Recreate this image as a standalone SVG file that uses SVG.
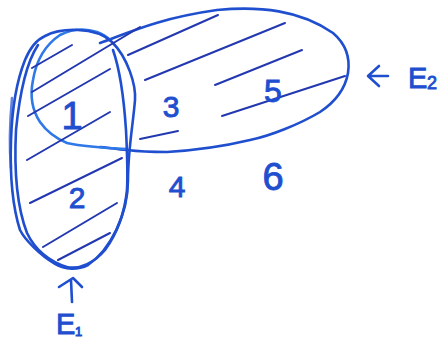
<svg xmlns="http://www.w3.org/2000/svg" width="445" height="342" viewBox="0 0 445 342">
<style>
.ol{fill:none;stroke:#1f4fcf;stroke-width:2.6;stroke-linecap:round;stroke-linejoin:round}
.lt{fill:none;stroke:#2f78e8;stroke-width:2.6;stroke-linecap:round}
.h{fill:none;stroke:#2338b0;stroke-width:2;stroke-linecap:round}
.t{font-family:"Liberation Sans",Arial,sans-serif;fill:#1f4fcf;stroke:#1f4fcf;stroke-width:0.9}
</style>
<rect width="445" height="342" fill="#ffffff"/>
<g id="E2">
<path class="ol" d="M 100,43 C 130,32 160,18 217,10 C 260,6 300,10 333,33 C 347,45 350,60 348,73 C 345,90 335,102 320,112 C 300,124 270,136 250,140 C 225,146 200,150 167,152 C 145,152 135,151 127,150 C 115,149 105,147 100,147"/>
<path class="lt" d="M 127,149 C 105,148 85,147 67,143 C 55,138 47,132 40,122 C 32,110 30,95 33,80 C 36,62 45,45 60,35 C 72,29 85,28 97,32 C 102,34 106,36 110,40"/>
</g>
<g id="E1">
<path class="ol" d="M 45,36 C 60,28 95,26 112,42 C 128,58 136,85 135,100 C 133,125 128,150 128,180 C 128,215 110,250 88,265 C 78,270 65,270 55,264 C 40,255 25,240 20,230 C 12,205 10,170 11,140 C 12,110 17,80 25,60 C 30,48 36,40 45,36"/>
<path class="ol" d="M 38,45 C 28,60 20,90 16,130 C 14,170 17,207 27,233 C 35,250 50,262 67,267 C 80,270 95,262 105,250 C 118,232 125,210 127,190 C 128,170 127,150 126,130 C 124,100 120,70 113,50"/>
<path class="ol" stroke-width="1.5" opacity="0.7" d="M 12,98 C 10,120 9,145 11,168"/>
</g>
<g id="hatching">
<line class="h" x1="32" y1="68" x2="72" y2="45"/>
<line class="h" x1="32" y1="92" x2="140" y2="27"/>
<line class="h" x1="28" y1="116" x2="110" y2="69"/>
<line class="h" x1="27" y1="160" x2="110" y2="112"/>
<line class="h" x1="30" y1="203" x2="122" y2="158"/>
<line class="h" x1="43" y1="247" x2="117" y2="203"/>
<line class="h" x1="58" y1="260" x2="110" y2="233"/>
<line class="h" x1="128" y1="55" x2="218" y2="15"/>
<line class="h" x1="145" y1="80" x2="285" y2="23"/>
<line class="h" x1="215" y1="85" x2="302" y2="50"/>
<line class="h" x1="222" y1="116" x2="345" y2="76"/>
<line class="h" x1="140" y1="139" x2="178" y2="131"/>
</g>
<g id="connectors">
<path class="ol" d="M 388,76 L 369,76 M 379,66 L 368,76 L 379,86"/>
<path class="ol" d="M 72,302 L 71,280 M 59,287 L 73,278 L 82,287"/>
</g>
<g id="labels">
<text class="t" x="72" y="129" font-size="38" text-anchor="middle">1</text>
<text class="t" x="77" y="208" font-size="30" text-anchor="middle">2</text>
<text class="t" x="171" y="117" font-size="30" text-anchor="middle">3</text>
<text class="t" x="273" y="102" font-size="32" text-anchor="middle">5</text>
<text class="t" x="177" y="197" font-size="30" text-anchor="middle">4</text>
<text class="t" x="273" y="190" font-size="38" text-anchor="middle">6</text>
<text class="t" x="408" y="88" font-size="29">E</text>
<text class="t" x="427" y="89" font-size="18">2</text>
<text class="t" x="56" y="334" font-size="29">E</text>
<text class="t" x="75" y="336" font-size="13">1</text>
</g>
</svg>
